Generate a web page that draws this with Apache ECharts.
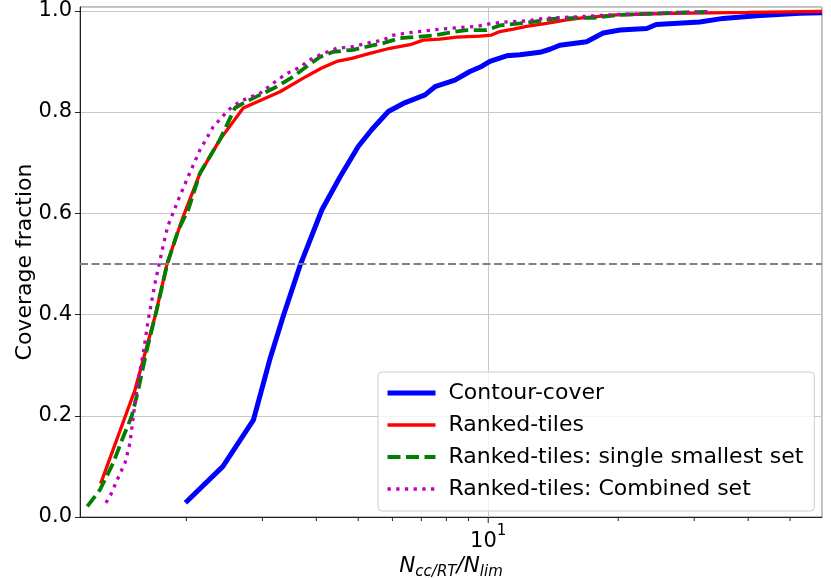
<!DOCTYPE html>
<html>
<head>
<meta charset="utf-8">
<script src="https://cdn.jsdelivr.net/npm/echarts@6/dist/echarts.min.js"></script>
<style>html,body{margin:0;padding:0;background:#fff;}#c{width:831px;height:578px;}</style>
</head>
<body>
<div id="c"></div>
<script>
// ---- data ----
const seriesNames = ['Contour-cover', 'Ranked-tiles', 'Ranked-tiles: single smallest set', 'Ranked-tiles: Combined set'];

const xContour = [1.99, 2.43, 2.86, 3.12, 3.35, 3.66, 4.12, 4.54, 5.0, 5.37, 5.87, 6.36, 7.14, 7.53, 8.37, 9.07, 9.65, 10.09, 11.03, 11.84, 13.17, 13.9, 14.65, 16.9, 18.46, 20.2, 23.3, 24.5, 30.9, 35, 41.8, 52.7, 59.3];
const yContour = [0.028, 0.100, 0.192, 0.311, 0.396, 0.495, 0.607, 0.672, 0.732, 0.765, 0.801, 0.817, 0.834, 0.850, 0.863, 0.880, 0.890, 0.900, 0.911, 0.913, 0.918, 0.924, 0.932, 0.939, 0.956, 0.962, 0.965, 0.973, 0.978, 0.985, 0.990, 0.995, 0.996];

const xRanked = [1.266, 1.52, 1.692, 1.806, 1.967, 2.15, 2.39, 2.708, 3.294, 3.73, 4.115, 4.457, 4.83, 5.32, 5.92, 6.59, 7.07, 7.73, 8.45, 9.57, 10.18, 10.64, 11.43, 12.27, 13.65, 15.19, 16.5, 19.83, 26.8, 40, 59.3];
const yRanked = [0.066, 0.251, 0.396, 0.502, 0.594, 0.679, 0.745, 0.808, 0.840, 0.867, 0.887, 0.900, 0.906, 0.916, 0.926, 0.933, 0.942, 0.944, 0.948, 0.950, 0.952, 0.959, 0.964, 0.969, 0.975, 0.982, 0.986, 0.992, 0.995, 0.997, 0.999];

const xSingle = [1.179, 1.262, 1.354, 1.429, 1.494, 1.547, 1.619, 1.707, 1.806, 1.916, 2.02, 2.15, 2.39, 2.59, 2.758, 3.013, 3.236, 3.536, 3.798, 4.08, 4.38, 4.87, 5.23, 5.71, 6.25, 6.95, 7.46, 8.01, 8.91, 9.92, 10.64, 11.84, 12.7, 14.1, 16.0, 17.5, 20.2, 25.0, 28.8, 32.6];
const ySingle = [0.021, 0.054, 0.107, 0.159, 0.199, 0.251, 0.330, 0.409, 0.500, 0.567, 0.607, 0.679, 0.745, 0.808, 0.821, 0.837, 0.850, 0.870, 0.890, 0.909, 0.919, 0.923, 0.929, 0.936, 0.946, 0.949, 0.951, 0.956, 0.962, 0.962, 0.971, 0.975, 0.978, 0.984, 0.986, 0.986, 0.992, 0.995, 0.997, 0.998];

const xCombined = [1.302, 1.336, 1.384, 1.442, 1.48, 1.507, 1.547, 1.589, 1.632, 1.692, 1.738, 1.794, 1.816, 1.916, 2.02, 2.15, 2.308, 2.5, 2.661, 2.96, 3.27, 3.414, 3.698, 3.8, 4.08, 4.457, 4.87, 5.23, 5.71, 5.97, 6.47, 7.07, 7.8, 8.6, 9.4, 10.18, 11.03, 12.27, 13.17, 14.1, 16.0, 20.2, 25.0, 32.6];
const yCombined = [0.028, 0.044, 0.074, 0.107, 0.146, 0.199, 0.271, 0.324, 0.390, 0.462, 0.508, 0.561, 0.577, 0.627, 0.673, 0.725, 0.771, 0.804, 0.821, 0.837, 0.865, 0.876, 0.890, 0.900, 0.913, 0.926, 0.929, 0.936, 0.942, 0.951, 0.956, 0.960, 0.964, 0.967, 0.969, 0.975, 0.978, 0.980, 0.984, 0.986, 0.988, 0.993, 0.995, 0.998];

const thresholdLevel = 0.5;
const xMajorTicks = [10];
const xMinorTicks = [2, 3, 4, 5, 6, 7, 8, 9, 20, 30, 40, 50];
const yTickInterval = 0.2;

// ---- chart ----
const FONT = 'DejaVu Sans';
const zip = (xs, ys) => xs.map((x, i) => [x, ys[i]]);

const chart = echarts.init(document.getElementById('c'), null, {renderer: 'canvas'});

const xLogMin = 1.134, xLogMax = 59.3;

const styles = [
  {color: '#0000ff', width: 5, type: 'solid'},
  {color: '#ff0000', width: 3.3, type: 'solid'},
  {color: '#008000', width: 3.8, type: [13, 5.5]},
  {color: '#bf00bf', width: 3.3, type: [3.3, 5.4]}
];

// tick marks drawn through the log axis scale (placed at y = 0, hanging below the axis line)
const tickSeries = (vals, len) => ({
  type: 'scatter', silent: true, clip: false, z: 10,
  data: vals.map(v => [v, 0]),
  symbol: 'rect', symbolSize: [1, len], symbolOffset: [0, len / 2 + 0.5],
  itemStyle: {color: '#222', opacity: 1},
  emphasis: {disabled: true}
});

const option = {
  animation: false,
  backgroundColor: '#fff',
  textStyle: {fontFamily: FONT},
  grid: {
    left: 80, right: 9, top: 7, bottom: 61,
    containLabel: false,
    outerBoundsMode: 'none',
    show: true, borderColor: '#7a7a7a', borderWidth: 1, backgroundColor: 'transparent'
  },
  legend: {
    orient: 'vertical',
    left: 378, top: 372,
    data: seriesNames.map((n, i) => ({name: n, lineStyle: {width: styles[i].width, type: styles[i].type, color: styles[i].color}})),
    itemWidth: 48, itemHeight: 14, itemGap: 10,
    padding: [10, 11, 11, 7],
    backgroundColor: 'rgba(255,255,255,0.8)',
    borderColor: '#cccccc', borderWidth: 1, borderRadius: 4,
    itemStyle: {opacity: 0},
    textStyle: {fontFamily: FONT, fontSize: 22, color: '#000', lineHeight: 22, padding: [0, 0, 0, 8]},
    selectedMode: false
  },
  xAxis: {
    type: 'log', logBase: 10, min: xLogMin, max: xLogMax,
    position: 'bottom',
    axisLine: {show: true, lineStyle: {color: '#222', width: 1}},
    axisTick: {show: false},
    axisLabel: {
      show: true, customValues: xMajorTicks, margin: 7,
      formatter: v => '{b|10}{s|' + Math.round(Math.log10(v)) + '}',
      rich: {
        b: {fontFamily: FONT, fontSize: 21, color: '#000', padding: [7, 0, 0, 0], verticalAlign: 'bottom'},
        s: {fontFamily: FONT, fontSize: 15, color: '#000', verticalAlign: 'top'}
      }
    },
    splitLine: {show: true, lineStyle: {color: '#c8c8c8', width: 1}},
    minorTick: {show: false},
    name: '{n|N}{sub|cc/RT}{n|/N}{sub|lim}',
    nameLocation: 'middle', nameGap: 38, nameMoveOverlap: false,
    nameTextStyle: {
      rich: {
        n: {fontFamily: FONT, fontSize: 21.5, fontStyle: 'italic', color: '#000', verticalAlign: 'top'},
        sub: {fontFamily: FONT, fontSize: 15, fontStyle: 'italic', color: '#000', padding: [10, 0, 0, 0], verticalAlign: 'bottom'}
      }
    }
  },
  yAxis: {
    type: 'value', min: 0, max: 1.0075, interval: yTickInterval,
    axisLine: {show: true, lineStyle: {color: '#222', width: 1}},
    axisTick: {show: true, length: 5, lineStyle: {color: '#222'}},
    axisLabel: {
      fontFamily: FONT, fontSize: 21, color: '#000', margin: 8,
      showMaxLabel: false,
      formatter: v => (Math.abs(v - Math.round(v * 5) / 5) < 1e-6 ? v.toFixed(1) : '')
    },
    splitLine: {show: true, lineStyle: {color: '#c8c8c8', width: 1}},
    name: 'Coverage fraction',
    nameLocation: 'middle', nameGap: 44, nameMoveOverlap: false,
    nameTextStyle: {fontFamily: FONT, fontSize: 22, color: '#000'}
  },
  series: [
    {
      name: seriesNames[0], type: 'line', data: zip(xContour, yContour),
      symbol: 'none', showSymbol: false, z: 2,
      lineStyle: styles[0],
      itemStyle: {color: styles[0].color},
      markLine: {
        silent: true, symbol: ['none', 'none'], label: {show: false},
        lineStyle: {color: '#808080', type: [8, 3.5], width: 2},
        data: [{yAxis: thresholdLevel}]
      }
    },
    {
      name: seriesNames[1], type: 'line', data: zip(xRanked, yRanked),
      symbol: 'none', showSymbol: false, z: 3,
      lineStyle: styles[1],
      itemStyle: {color: styles[1].color}
    },
    {
      name: seriesNames[2], type: 'line', data: zip(xSingle, ySingle),
      symbol: 'none', showSymbol: false, z: 4,
      lineStyle: styles[2],
      itemStyle: {color: styles[2].color}
    },
    {
      name: seriesNames[3], type: 'line', data: zip(xCombined, yCombined),
      symbol: 'none', showSymbol: false, z: 5,
      lineStyle: styles[3],
      itemStyle: {color: styles[3].color}
    },
    tickSeries(xMajorTicks, 5.5),
    tickSeries(xMinorTicks, 3.5)
  ]
};
chart.setOption(option);
</script>
</body>
</html>
